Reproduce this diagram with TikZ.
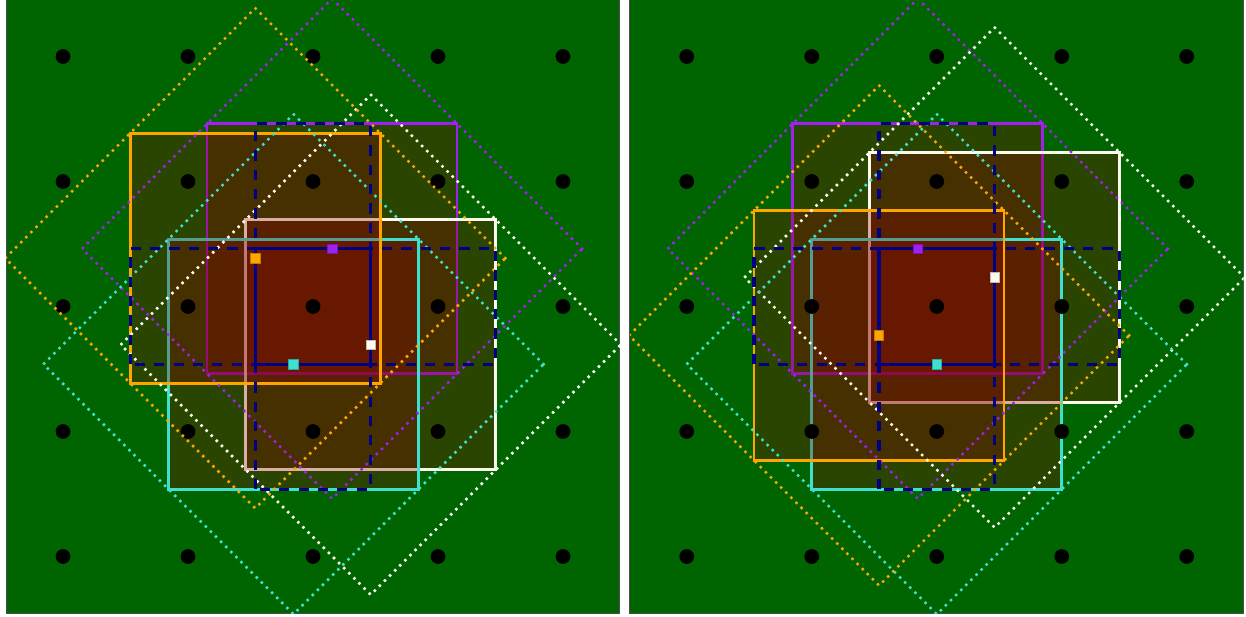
\documentclass[tikz,border=0pt]{standalone}
\usepackage{tikz}

\definecolor{fieldgreen}{RGB}{0,100,0}
\definecolor{boxred}{RGB}{139,0,0}
\definecolor{sqpurple}{RGB}{160,32,240}
\definecolor{sqorange}{RGB}{255,165,0}
\definecolor{sqcyan}{RGB}{64,224,208}
\definecolor{sqwhite}{RGB}{252,250,236}
\definecolor{gridnavy}{RGB}{0,0,128}

\begin{document}
\begin{tikzpicture}[
  x=2.5cm, y=2.5cm,
  field/.style={fill=fieldgreen, draw=black!70, line width=0.5pt},
  boxsq/.style={draw=#1, line width=1.5pt, fill=boxred, fill opacity=0.3},
  diam/.style={draw=#1, line width=2pt, line cap=round, dash pattern=on 0pt off 4.1pt},
  band/.style={draw=gridnavy, line width=1.8pt, dash pattern=on 5.8pt off 5.2pt},
  core/.style={draw=gridnavy, line width=1.8pt},
  ctr/.style={rectangle, draw=#1!75!black, fill=#1, line width=0.3pt, inner sep=0pt, minimum size=0.19cm},
]
\useasboundingbox (-2.504,-2.484) rectangle (7.464,2.452);

% left panel
\begin{scope}
  \path[field] (-2.455,-2.455) rectangle (2.455,2.455);

  % squares of side 2 round the four centres
  \foreach \cx/\cy/\col in {0.153/0.462/sqpurple, 0.462/-0.306/sqwhite,
                            -0.156/-0.462/sqcyan, -0.462/0.386/sqorange}
    \path[boxsq=\col] (\cx-1,\cy-1) rectangle (\cx+1,\cy+1);

  \foreach \i in {-2,...,2} \foreach \j in {-2,...,2} \fill (\i,\j) circle (0.059);

  % dotted diamonds through the corners
  \begin{scope}
    \clip (-2.455,-2.455) rectangle (2.455,2.455);
    \foreach \cx/\cy/\col in {0.153/0.462/sqpurple, 0.462/-0.306/sqwhite,
                              -0.156/-0.462/sqcyan, -0.462/0.386/sqorange}
      \draw[diam=\col] (\cx+2,\cy) -- (\cx,\cy+2) -- (\cx-2,\cy) -- (\cx,\cy-2) -- cycle;
  \end{scope}

  \path[band] (-0.462,-1.462) rectangle (0.462,1.462);
  \path[band] (-1.462,-0.462) rectangle (1.462,0.462);
  \path[core] (-0.462,-0.462) rectangle (0.462,0.462);

  \node[ctr=sqpurple] (lP) at (0.153,0.462) {};
  \node[ctr=sqwhite]  (lW) at (0.462,-0.306) {};
  \node[ctr=sqcyan]   (lC) at (-0.156,-0.462) {};
  \node[ctr=sqorange] (lO) at (-0.462,0.386) {};
\end{scope}

% right panel
\begin{scope}[shift={(4.99,0)}]
  \path[field] (-2.455,-2.455) rectangle (2.455,2.455);

  \foreach \cx/\cy/\col in {-0.152/0.462/sqpurple, 0.462/0.232/sqwhite,
                            0/-0.462/sqcyan, -0.462/-0.232/sqorange}
    \path[boxsq=\col] (\cx-1,\cy-1) rectangle (\cx+1,\cy+1);

  \foreach \i in {-2,...,2} \foreach \j in {-2,...,2} \fill (\i,\j) circle (0.059);

  \begin{scope}
    \clip (-2.455,-2.455) rectangle (2.455,2.455);
    \foreach \cx/\cy/\col in {-0.152/0.462/sqpurple, 0.462/0.232/sqwhite,
                              0/-0.462/sqcyan, -0.462/-0.232/sqorange}
      \draw[diam=\col] (\cx+2,\cy) -- (\cx,\cy+2) -- (\cx-2,\cy) -- (\cx,\cy-2) -- cycle;
  \end{scope}

  \path[band] (-0.462,-1.462) rectangle (0.462,1.462);
  \path[band] (-1.462,-0.462) rectangle (1.462,0.462);
  \path[core] (-0.462,-0.462) rectangle (0.462,0.462);

  \node[ctr=sqpurple] (rP) at (-0.152,0.462) {};
  \node[ctr=sqwhite]  (rW) at (0.462,0.232) {};
  \node[ctr=sqcyan]   (rC) at (0,-0.462) {};
  \node[ctr=sqorange] (rO) at (-0.462,-0.232) {};
\end{scope}
\end{tikzpicture}
\end{document}
